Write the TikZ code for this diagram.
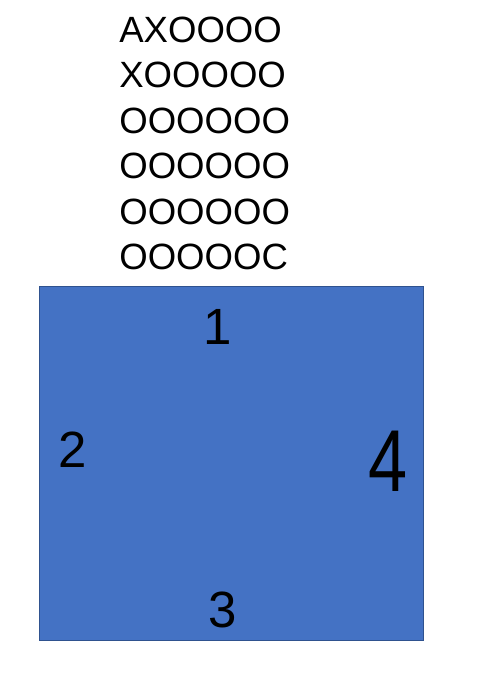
\documentclass[tikz,border=0pt]{standalone}
\usepackage{fontspec}
\setmainfont{Liberation Sans}
\usepackage{xcolor}
\usepackage{tikz}
\definecolor{ink}{HTML}{000000}
\definecolor{tile}{HTML}{4472C4}
\definecolor{rim}{HTML}{2F528F}
\tikzset{
  board/.style={fill=tile, draw=rim, line width=0.5pt},
  row/.style={text=ink, anchor=west, inner sep=0pt, font=\fontsize{20.8}{24}\selectfont},
  side/.style={text=ink, inner sep=0pt, font=\fontsize{29}{32}\selectfont},
}
\begin{document}
\begin{tikzpicture}[x=0.02cm, y=-0.02cm]
  \useasboundingbox (0,0) rectangle (478,676);

  \node[row] (r1) at (119,30)  {AXOOOO};
  \node[row] (r2) at (119,75)  {XOOOOO};
  \node[row] (r3) at (119,121) {OOOOOO};
  \node[row] (r4) at (119,166) {OOOOOO};
  \node[row] (r5) at (119,212) {OOOOOO};
  \node[row] (r6) at (119,257) {OOOOOC};

  \draw[board] (39,286) rectangle (423,640);

  \node[side] (s1) at (218,327) {1};
  \node[side] (s2) at (73,450)  {2};
  \node[side] (s3) at (223,610) {3};
  \node[side, font=\fontsize{50}{54}\selectfont] (s4) at (388,461) {\scalebox{0.8}[1]{4}};
\end{tikzpicture}
\end{document}
